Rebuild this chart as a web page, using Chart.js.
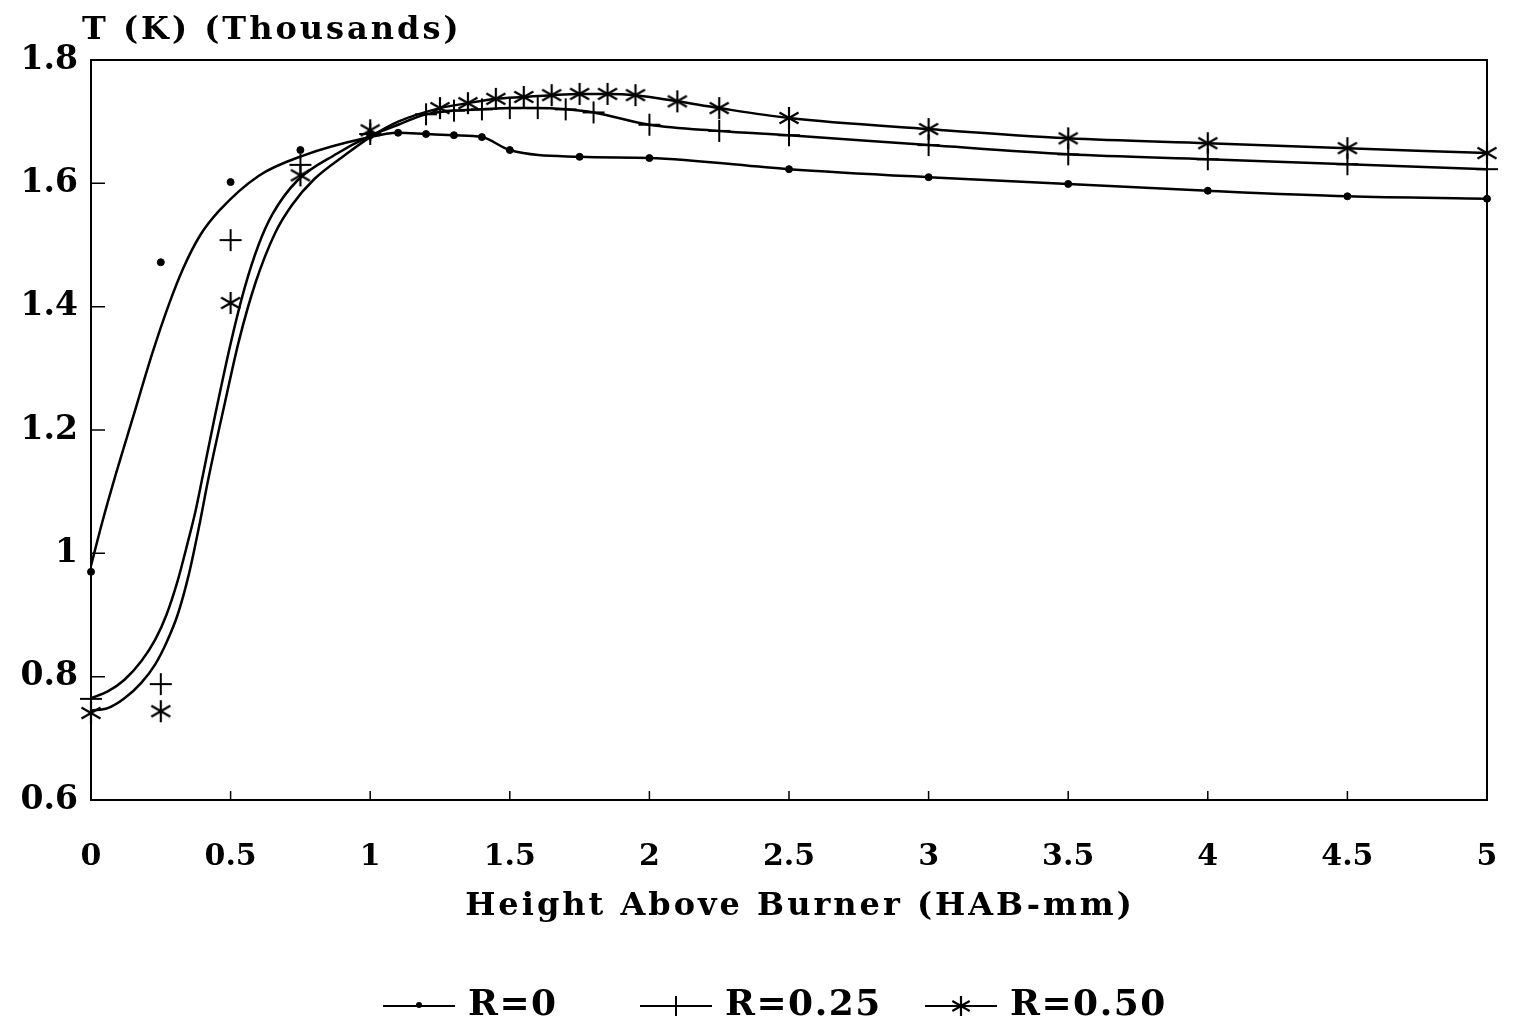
<!DOCTYPE html>
<html>
<head>
<meta charset="utf-8">
<title>T vs Height Above Burner</title>
<script src="https://cdn.jsdelivr.net/npm/chart.js@4.4.1/dist/chart.umd.min.js"></script>
<style>
  html, body { margin: 0; padding: 0; background: #fff; }
  #wrap { width: 1513px; height: 1031px; position: relative; }
</style>
</head>
<body>
<div id="wrap"><canvas id="chart"></canvas></div>
<script>
// measured temperatures (thousands of K) vs HAB (mm)
const r0X = [0, 0.25, 0.5, 0.75, 1.0, 1.1, 1.2, 1.3, 1.4, 1.5, 1.75, 2.0, 2.5, 3.0, 3.5, 4.0, 4.5, 5.0];
const r0Y = [0.97, 1.472, 1.602, 1.654, 1.678, 1.682, 1.680, 1.678, 1.675, 1.654, 1.643, 1.641, 1.623, 1.610, 1.599, 1.588, 1.579, 1.575];

const r25X = [0, 0.25, 0.5, 0.75, 1.0, 1.2, 1.3, 1.4, 1.5, 1.6, 1.7, 1.8, 2.0, 2.25, 2.5, 3.0, 3.5, 4.0, 4.5, 5.0];
const r25Y = [0.764, 0.788, 1.508, 1.63, 1.68, 1.712, 1.718, 1.72, 1.722, 1.722, 1.72, 1.715, 1.695, 1.685, 1.678, 1.662, 1.647, 1.639, 1.631, 1.623];

const r50X = [0, 0.25, 0.5, 0.75, 1.0, 1.25, 1.35, 1.45, 1.55, 1.65, 1.75, 1.85, 1.95, 2.1, 2.25, 2.5, 3.0, 3.5, 4.0, 4.5, 5.0];
const r50Y = [0.741, 0.744, 1.406, 1.613, 1.686, 1.722, 1.730, 1.737, 1.740, 1.743, 1.745, 1.745, 1.743, 1.733, 1.722, 1.706, 1.688, 1.673, 1.665, 1.657, 1.649];

// fitted curves
const r0FitX = [0, 0.04, 0.09, 0.15, 0.22, 0.28, 0.33, 0.39, 0.46, 0.60, 0.76, 0.98, 1.1, 1.2, 1.3, 1.4, 1.5, 1.75, 2.0, 2.5, 3.0, 3.5, 4.0, 4.5, 5.0];
const r0FitY = [0.98, 1.05, 1.13, 1.22, 1.325, 1.405, 1.462, 1.515, 1.556, 1.612, 1.645, 1.673, 1.682, 1.680, 1.678, 1.675, 1.654, 1.643, 1.641, 1.623, 1.610, 1.599, 1.588, 1.579, 1.575];

const r25FitX = [0, 0.06, 0.12, 0.18, 0.23, 0.27, 0.31, 0.345, 0.375, 0.40, 0.445, 0.50, 0.55, 0.60, 0.65, 0.74, 0.88, 0.99, 1.1, 1.2, 1.3, 1.4, 1.5, 1.6, 1.7, 1.8, 2.0, 2.25, 2.5, 3.0, 3.5, 4.0, 4.5, 5.0];
const r25FitY = [0.765, 0.776, 0.795, 0.825, 0.86, 0.90, 0.955, 1.015, 1.07, 1.125, 1.225, 1.34, 1.43, 1.50, 1.55, 1.605, 1.648, 1.675, 1.695, 1.712, 1.718, 1.720, 1.722, 1.722, 1.720, 1.715, 1.695, 1.685, 1.678, 1.662, 1.647, 1.639, 1.631, 1.623];

const r50FitX = [0, 0.06, 0.12, 0.18, 0.23, 0.27, 0.31, 0.35, 0.39, 0.42, 0.48, 0.53, 0.59, 0.66, 0.72, 0.80, 0.91, 1.0, 1.1, 1.25, 1.35, 1.45, 1.55, 1.65, 1.75, 1.85, 1.95, 2.1, 2.25, 2.5, 3.0, 3.5, 4.0, 4.5, 5.0];
const r50FitY = [0.745, 0.749, 0.765, 0.79, 0.82, 0.855, 0.90, 0.965, 1.05, 1.12, 1.245, 1.345, 1.44, 1.52, 1.565, 1.607, 1.646, 1.675, 1.700, 1.722, 1.730, 1.737, 1.740, 1.743, 1.745, 1.745, 1.743, 1.733, 1.722, 1.706, 1.688, 1.673, 1.665, 1.657, 1.649];

const seriesLabels = ['R=0', 'R=0.25', 'R=0.50'];

const FONT = "'DejaVu Serif', 'Liberation Serif', serif";
const INK = '#000';

const toXY = (xs, ys) => xs.map((x, i) => ({ x, y: ys[i] }));
const fmt = (v) => String(Number(v.toFixed(2)));

// little canvases used as point styles
function plusMarker(r) {
  const c = document.createElement('canvas');
  c.width = c.height = 2 * r + 4;
  const g = c.getContext('2d');
  const m = r + 2;
  g.strokeStyle = INK;
  g.lineWidth = 2;
  g.beginPath();
  g.moveTo(m, m - r); g.lineTo(m, m + r);
  g.moveTo(m - r, m); g.lineTo(m + r, m);
  g.stroke();
  return c;
}

function starMarker(r) {
  const c = document.createElement('canvas');
  c.width = c.height = 2 * r + 4;
  const g = c.getContext('2d');
  const m = r + 2;
  g.strokeStyle = INK;
  g.lineWidth = 2.2;
  g.beginPath();
  [90, 30, 150].forEach(a => {
    const t = a * Math.PI / 180;
    g.moveTo(m - r * Math.cos(t), m - r * Math.sin(t));
    g.lineTo(m + r * Math.cos(t), m + r * Math.sin(t));
  });
  g.stroke();
  return c;
}

const plusImg = plusMarker(11);
const starImg = starMarker(11);

const markerSet = (label, xs, ys, style, radius) => ({
  label,
  data: toXY(xs, ys),
  showLine: false,
  clip: false,
  pointStyle: style,
  pointRadius: radius,
  pointBackgroundColor: INK,
  pointBorderColor: INK,
  pointBorderWidth: 1
});

const curveSet = (label, xs, ys) => ({
  label,
  data: toXY(xs, ys),
  showLine: true,
  pointRadius: 0,
  borderColor: INK,
  borderWidth: 2.5,
  cubicInterpolationMode: 'monotone',
  fill: false
});

// frame + inward tick marks + free text (y title, x title, legend)
const decorations = {
  id: 'decorations',
  afterDatasetsDraw(chart) {
    const { ctx, chartArea: a, scales } = chart;
    ctx.save();
    ctx.strokeStyle = INK;
    ctx.lineWidth = 2;
    ctx.strokeRect(a.left, a.top, a.right - a.left, a.bottom - a.top);

    ctx.lineWidth = 1.5;
    ctx.beginPath();
    scales.y.ticks.forEach(t => {
      const py = scales.y.getPixelForValue(t.value);
      ctx.moveTo(a.left, py); ctx.lineTo(a.left + 14, py);
    });
    scales.x.ticks.forEach(t => {
      const px = scales.x.getPixelForValue(t.value);
      ctx.moveTo(px, a.bottom); ctx.lineTo(px, a.bottom - 9);
    });
    ctx.stroke();
    ctx.restore();
  },
  afterDraw(chart) {
    const { ctx } = chart;
    const spacing = (px) => { if ('letterSpacing' in ctx) ctx.letterSpacing = px; };
    ctx.save();
    ctx.fillStyle = INK;
    ctx.textBaseline = 'middle';

    // axis titles
    ctx.font = `bold 32px ${FONT}`;
    ctx.textAlign = 'left';
    spacing('3px');
    ctx.fillText('T (K) (Thousands)', 82, 31);

    ctx.textAlign = 'center';
    ctx.fillText('Height Above Burner (HAB-mm)', 800, 907);

    // legend: line with marker, then label
    const iconW = 72, gapIcon = 13, cy = 1006;
    const starts = [383, 640, 925];
    ctx.font = `bold 36px ${FONT}`;
    spacing('1.5px');
    seriesLabels.forEach((label, i) => {
      const x = starts[i];
      ctx.strokeStyle = INK;
      ctx.lineWidth = 2;
      ctx.beginPath();
      ctx.moveTo(x, cy); ctx.lineTo(x + iconW, cy);
      ctx.stroke();
      const mx = x + iconW / 2;
      if (i === 0) {
        ctx.beginPath();
        ctx.arc(mx, cy - 1, 3, 0, Math.PI * 2);
        ctx.fill();
      } else {
        const img = i === 1 ? plusMarker(10) : starMarker(10);
        ctx.drawImage(img, mx - img.width / 2, cy - img.height / 2);
      }
      ctx.textAlign = 'left';
      ctx.fillText(label, x + iconW + gapIcon, cy);
    });
    ctx.restore();
  }
};

const ctx = document.getElementById('chart');

new Chart(ctx, {
  type: 'scatter',
  data: {
    datasets: [
      curveSet(seriesLabels[0] + ' fit', r0FitX, r0FitY),
      curveSet(seriesLabels[1] + ' fit', r25FitX, r25FitY),
      curveSet(seriesLabels[2] + ' fit', r50FitX, r50FitY),
      markerSet(seriesLabels[0], r0X, r0Y, 'circle', 3.5),
      markerSet(seriesLabels[1], r25X, r25Y, plusImg, 11),
      markerSet(seriesLabels[2], r50X, r50Y, starImg, 11)
    ]
  },
  options: {
    responsive: true,
    maintainAspectRatio: false,
    animation: false,
    layout: { padding: { top: 60, right: 26, bottom: 0, left: 0 } },
    plugins: {
      legend: { display: false },
      title: { display: false },
      tooltip: { enabled: false }
    },
    scales: {
      x: {
        type: 'linear',
        min: 0,
        max: 5,
        border: { display: false },
        grid: { display: false, drawTicks: false },
        ticks: {
          stepSize: 0.5,
          padding: 39,
          color: INK,
          callback: fmt,
          font: { family: FONT, size: 30, weight: 'bold' }
        },
        afterFit: (scale) => {
          scale.height = 231;
          scale.paddingLeft = 0;
          scale.paddingRight = 0;
        }
      },
      y: {
        type: 'linear',
        min: 0.6,
        max: 1.8,
        border: { display: false },
        grid: { display: false, drawTicks: false },
        ticks: {
          stepSize: 0.2,
          padding: 13,
          color: INK,
          callback: fmt,
          font: { family: FONT, size: 33, weight: 'bold' }
        },
        afterFit: (scale) => {
          scale.width = 91;
          scale.paddingTop = 0;
          scale.paddingBottom = 0;
        }
      }
    }
  },
  plugins: [decorations]
});
</script>
</body>
</html>
